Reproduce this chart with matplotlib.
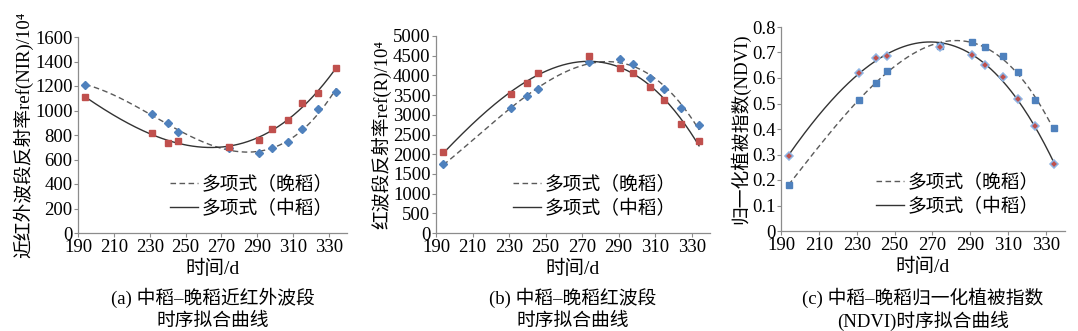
import numpy as np
import matplotlib.pyplot as plt

plt.rcParams['font.family'] = ['Liberation Serif', 'Noto Sans CJK SC', 'DejaVu Sans']
plt.rcParams['axes.unicode_minus'] = False

# observation days (day of year)
days = [194, 231, 240, 246, 274, 291, 298, 307, 315, 324, 334]

# near infrared reflectance (x 10^4)
nir_late = [1210, 970, 895, 825, 690, 650, 690, 740, 845, 1015, 1155]
nir_mid = [1110, 815, 735, 750, 705, 760, 850, 920, 1060, 1140, 1350]

# red band reflectance (x 10^4)
red_late = [1740, 3170, 3470, 3660, 4350, 4410, 4300, 3930, 3650, 3180, 2730]
red_mid = [2050, 3520, 3800, 4060, 4490, 4190, 4060, 3710, 3370, 2770, 2330]

# NDVI
ndvi_late = [0.18, 0.515, 0.58, 0.628, 0.725, 0.74, 0.72, 0.687, 0.622, 0.512, 0.403]
ndvi_mid = [0.295, 0.62, 0.68, 0.687, 0.722, 0.69, 0.652, 0.602, 0.518, 0.413, 0.263]

legend_labels = ['多项式（晚稻）', '多项式（中稻）']
xticks = list(range(190, 331, 20))

BLUE = '#4f81bd'
RED = '#c0504d'
LINE = '#333333'
AXIS = '#8c8c8c'

W, H = 1078, 331
fig = plt.figure(figsize=(W / 100, H / 100), dpi=100)


def px_rect(left, right, top, bottom):
    return [left / W, 1 - bottom / H, (right - left) / W, (bottom - top) / H]


panels = [
    dict(box=(78, 347, 37, 233), late=nir_late, mid=nir_mid,
         ylim=(0, 1600), yticks=range(0, 1601, 200),
         ylabel='近红外波段反射率ref(NIR)/10⁴',
         caption=['(a) 中稻–晚稻近红外波段', '时序拟合曲线'],
         leg_x=170, ndvi=False),
    dict(box=(436, 710, 36, 233), late=red_late, mid=red_mid,
         ylim=(0, 5000), yticks=range(0, 5001, 500),
         ylabel='红波段反射率ref(R)/10⁴',
         caption=['(b) 中稻–晚稻红波段', '时序拟合曲线'],
         leg_x=513, ndvi=False),
    dict(box=(781, 1065, 27, 231), late=ndvi_late, mid=ndvi_mid,
         ylim=(0, 0.8), yticks=np.arange(0, 0.81, 0.1),
         ylabel='归一化植被指数(NDVI)',
         caption=['(c) 中稻–晚稻归一化植被指数', '(NDVI)时序拟合曲线'],
         leg_x=876, ndvi=True),
]

xs = np.linspace(days[0], days[-1], 200)

for p in panels:
    left, right, top, bottom = p['box']
    ax = fig.add_axes(px_rect(left, right, top, bottom))

    # cubic polynomial trend lines
    fit_late = np.polyval(np.polyfit(days, p['late'], 3), xs)
    fit_mid = np.polyval(np.polyfit(days, p['mid'], 3), xs)
    l1, = ax.plot(xs, fit_late, color='#5a5a5a', lw=1.0, dashes=(4, 2.5))
    l2, = ax.plot(xs, fit_mid, '-', color=LINE, lw=1.0)

    if p['ndvi']:
        ax.plot(days, p['late'], 's', color=BLUE, ms=4.2, mec=BLUE, zorder=3)
        ax.plot(days, p['mid'], 'D', color=RED, ms=3.6, mec='#8fb4e3', mew=1.1, zorder=3)
    else:
        ax.plot(days, p['late'], 'D', color=BLUE, ms=4.2, mec=BLUE, zorder=3)
        ax.plot(days, p['mid'], 's', color=RED, ms=4.0, mec=RED, zorder=3)

    ax.set_xlim(190, 340)
    ax.set_ylim(*p['ylim'])
    ax.set_xticks(xticks)
    ax.set_yticks(list(p['yticks']))
    if p['ndvi']:
        ax.set_yticklabels(['0'] + ['%.1f' % v for v in np.arange(0.1, 0.81, 0.1)])
    ax.tick_params(labelsize=13.5, length=3, width=0.8, color=AXIS, pad=1)
    for s in ['top', 'right']:
        ax.spines[s].set_visible(False)
    for s in ['left', 'bottom']:
        ax.spines[s].set_color(AXIS)
        ax.spines[s].set_linewidth(0.9)

    ax.set_ylabel(p['ylabel'], fontsize=13.5, labelpad=1)
    ax.set_xlabel('时间/d', fontsize=14, labelpad=3)

    cx = (left + right) / 2 / W
    fig.text(cx, 1 - 298 / H, p['caption'][0], ha='center', va='center', fontsize=13.5)
    fig.text(cx, 1 - 321 / H, p['caption'][1], ha='center', va='center', fontsize=13.5)

    lx = (p['leg_x'] - left) / (right - left)
    ly = 15 / (bottom - top)
    ax.legend([l1, l2], legend_labels, loc='lower left', bbox_to_anchor=(lx, ly),
              frameon=False, fontsize=13.5, handlelength=1.5, handletextpad=0.2,
              labelspacing=0.35, borderaxespad=0, borderpad=0)

fig.savefig('out.png', dpi=100)
